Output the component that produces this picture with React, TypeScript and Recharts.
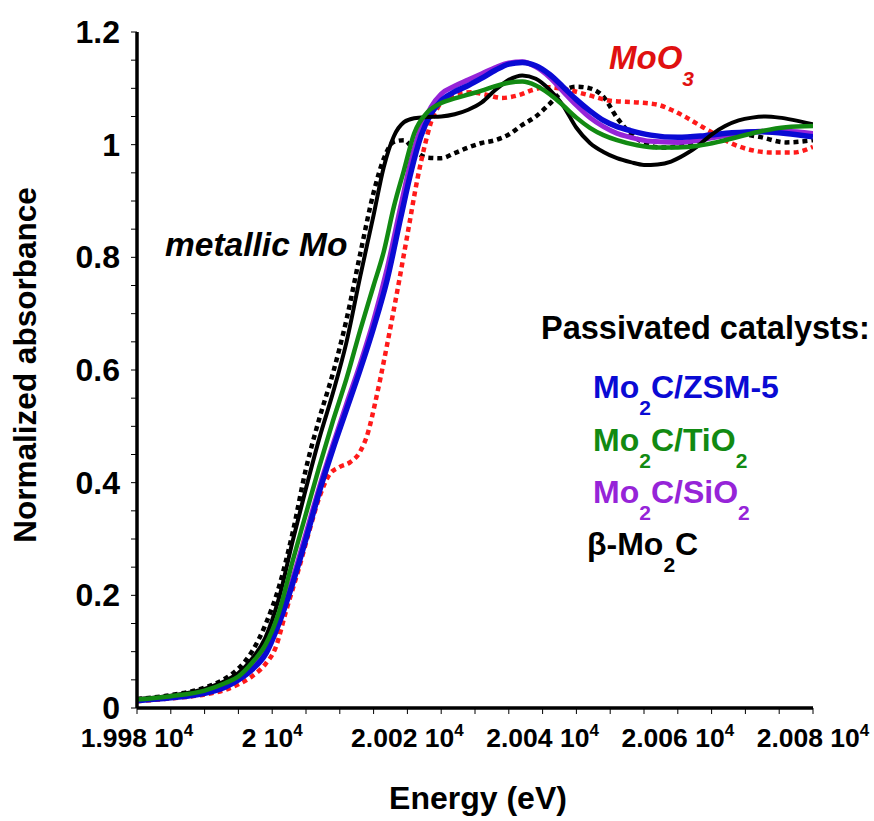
import React from 'react';
import { LineChart, Line, XAxis, YAxis } from 'recharts';

// energies (eV) and normalized absorbance per sample
const metalE = [19980, 19985, 19990, 19993, 19995, 19997, 19999, 20001, 20003, 20005, 20007, 20009, 20011, 20013, 20015, 20016.5, 20018, 20019.5, 20021, 20023, 20025, 20027, 20029, 20031, 20033, 20035, 20037, 20039, 20041, 20043, 20045, 20047, 20049, 20051, 20053, 20055, 20057.5, 20061, 20064, 20068, 20072, 20076, 20080];
const metalY = [0.016, 0.023, 0.036, 0.052, 0.07, 0.1, 0.148, 0.215, 0.31, 0.425, 0.515, 0.595, 0.69, 0.805, 0.915, 0.975, 1.005, 1.008, 0.99, 0.977, 0.976, 0.985, 0.995, 1.003, 1.008, 1.018, 1.035, 1.05, 1.072, 1.095, 1.103, 1.1, 1.085, 1.048, 1.02, 1.003, 0.995, 0.998, 1.012, 1.02, 1.014, 1.004, 1.008];

const mooE = [19980, 19985, 19990, 19993, 19995, 19997, 19999, 20000.5, 20002, 20004, 20005.5, 20007, 20008.5, 20010, 20011.5, 20013, 20014.2, 20015.2, 20016, 20017, 20018.5, 20020, 20021.5, 20022.6, 20023.5, 20024.5, 20025.5, 20027.3, 20029.3, 20031.5, 20034, 20036.5, 20038.5, 20040.5, 20043, 20046.5, 20050, 20054, 20057, 20059, 20061, 20063, 20065, 20068, 20071, 20074, 20077, 20080];
const mooY = [0.012, 0.017, 0.024, 0.032, 0.042, 0.056, 0.078, 0.107, 0.17, 0.25, 0.315, 0.375, 0.415, 0.428, 0.436, 0.455, 0.49, 0.54, 0.585, 0.645, 0.74, 0.84, 0.94, 1.0, 1.04, 1.066, 1.08, 1.089, 1.093, 1.089, 1.083, 1.088, 1.097, 1.102, 1.099, 1.089, 1.078, 1.075, 1.071, 1.062, 1.05, 1.036, 1.022, 1.002, 0.99, 0.986, 0.986, 0.996];

const betaE = [19980, 19985, 19990, 19993, 19995, 19997, 19999, 20001, 20003, 20005, 20007, 20009, 20011, 20013, 20015, 20016.5, 20018, 20019.5, 20021, 20023, 20025, 20027, 20029, 20031, 20033, 20035, 20037, 20039, 20041, 20043, 20045, 20047, 20049, 20051, 20053, 20055, 20057, 20059, 20061, 20063, 20065, 20067, 20069, 20071, 20073, 20075, 20077, 20080];
const betaY = [0.016, 0.022, 0.034, 0.048, 0.062, 0.087, 0.125, 0.195, 0.295, 0.39, 0.48, 0.56, 0.65, 0.765, 0.875, 0.96, 1.015, 1.04, 1.047, 1.049, 1.05, 1.054, 1.062, 1.075, 1.097, 1.115, 1.123, 1.117, 1.098, 1.07, 1.03, 1.003, 0.987, 0.976, 0.969, 0.964, 0.965, 0.97, 0.982, 0.998, 1.018, 1.033, 1.043, 1.048, 1.05, 1.048, 1.044, 1.036];

const suppE = [19980, 19985, 19990, 19993, 19995, 19997, 19999, 20001, 20003, 20005, 20007, 20009, 20011, 20013, 20015, 20017, 20019, 20020.5, 20022, 20023.5, 20025, 20027, 20029, 20031, 20033, 20035, 20037, 20039, 20041, 20043, 20045, 20047, 20049, 20051, 20053, 20056, 20060, 20064, 20068, 20072, 20076, 20080];
const zsmY = [0.013, 0.018, 0.026, 0.037, 0.05, 0.068, 0.095, 0.15, 0.22, 0.3, 0.385, 0.46, 0.53, 0.6, 0.675, 0.76, 0.87, 0.95, 1.015, 1.055, 1.078, 1.094, 1.105, 1.118, 1.132, 1.143, 1.146, 1.14, 1.125, 1.103, 1.08, 1.06, 1.043, 1.032, 1.025, 1.017, 1.013, 1.016, 1.021, 1.023, 1.02, 1.014];
const sioY = [0.014, 0.019, 0.027, 0.039, 0.052, 0.071, 0.099, 0.156, 0.228, 0.31, 0.393, 0.468, 0.54, 0.61, 0.688, 0.78, 0.89, 0.97, 1.03, 1.067, 1.09, 1.104, 1.115, 1.126, 1.137, 1.145, 1.147, 1.138, 1.12, 1.095, 1.07, 1.048, 1.032, 1.02, 1.013, 1.006, 1.004, 1.01, 1.018, 1.024, 1.024, 1.02];

const tioE = [19980, 19985, 19990, 19993, 19995, 19997, 19999, 20001, 20003, 20005, 20007, 20009, 20011, 20013, 20015, 20016.5, 20018, 20019.5, 20021, 20023, 20025, 20027, 20029, 20031, 20033, 20035, 20037, 20039, 20041, 20043, 20045, 20047, 20049, 20051, 20054, 20057, 20060, 20063, 20066, 20069, 20072, 20076, 20080];
const tioY = [0.015, 0.021, 0.031, 0.044, 0.056, 0.08, 0.112, 0.17, 0.26, 0.345, 0.43, 0.51, 0.585, 0.67, 0.75, 0.81, 0.89, 0.955, 1.02, 1.058, 1.074, 1.082, 1.089, 1.096, 1.104, 1.11, 1.112, 1.105, 1.09, 1.07, 1.048, 1.03, 1.017, 1.008, 0.999, 0.995, 0.995, 0.998, 1.005, 1.014, 1.023, 1.031, 1.033];

const xMajor = [19980, 20000, 20020, 20040, 20060, 20080];
const xLabels = ['1.998', '2', '2.002', '2.004', '2.006', '2.008'];
const yMajor = [0, 0.2, 0.4, 0.6, 0.8, 1, 1.2];
const yLabels = ['0', '0.2', '0.4', '0.6', '0.8', '1', '1.2'];

const xTicks = Array.from({ length: 21 }, (_, i) => 19980 + i * 5);
const yTicks = Array.from({ length: 25 }, (_, i) => +(i * 0.05).toFixed(2));

const zip = (es: number[], ys: number[]) => es.map((e, i) => ({ e, v: ys[i] }));

const FONT = '"Liberation Sans", Arial, Helvetica, sans-serif';

const BLUE = '#0a0ad4';
const GREEN = '#128a12';
const PURPLE = '#9624d8';
const RED = '#ff1a1a';

function XTick(props: any) {
  const { x, y, payload } = props;
  const idx = xMajor.indexOf(payload.value);
  if (idx < 0) return null;
  return (
    <text x={x} y={y + 33} textAnchor="middle" fontFamily={FONT} fontWeight="bold" fontSize={26.5} fill="#000">
      {xLabels[idx]} 10
      <tspan fontSize={17} dy={-11}>4</tspan>
    </text>
  );
}

function YTick(props: any) {
  const { x, y, payload } = props;
  const idx = yMajor.findIndex((m) => Math.abs(m - payload.value) < 1e-6);
  if (idx < 0) return null;
  return (
    <text x={x - 11} y={y} dy={11} textAnchor="end" fontFamily={FONT} fontWeight="bold" fontSize={32} fill="#000">
      {yLabels[idx]}
    </text>
  );
}

// chemical formula: main text, subscript, more text, optional final subscript
function Formula({ x, y, main, sub, tail, sub2, color, size = 32, italic = false }: any) {
  return (
    <text x={x} y={y} fontFamily={FONT} fontWeight="bold" fontStyle={italic ? 'italic' : 'normal'} fontSize={size} fill={color}>
      {main}
      <tspan fontSize={21} dy={17}>{sub}</tspan>
      {tail ? <tspan dy={-17}>{tail}</tspan> : null}
      {sub2 ? <tspan fontSize={21} dy={17}>{sub2}</tspan> : null}
    </text>
  );
}

export default function App() {
  const W = 874;
  const H = 821;
  return (
    <div style={{ position: 'fixed', left: 0, top: 0, width: W, height: H, background: '#fff' }}>
      <LineChart width={W} height={H} margin={{ top: 32, right: 61, bottom: 33, left: 27 }}>
        <XAxis
          type="number"
          dataKey="e"
          domain={[19980, 20080]}
          ticks={xTicks}
          interval={0}
          allowDataOverflow
          height={80}
          tickSize={6}
          tickMargin={0}
          tick={<XTick />}
          axisLine={{ stroke: '#000', strokeWidth: 3.5 }}
          tickLine={{ stroke: '#000', strokeWidth: 1 }}
        />
        <YAxis
          type="number"
          domain={[0, 1.2]}
          ticks={yTicks}
          interval={0}
          allowDataOverflow
          width={110}
          tickSize={6}
          tickMargin={0}
          tick={<YTick />}
          axisLine={{ stroke: '#000', strokeWidth: 3.5 }}
          tickLine={{ stroke: '#000', strokeWidth: 1 }}
        />
        <Line data={zip(metalE, metalY)} dataKey="v" type="monotone" stroke="#000" strokeWidth={4.5} strokeDasharray="5 4" dot={false} isAnimationActive={false} />
        <Line data={zip(mooE, mooY)} dataKey="v" type="monotone" stroke={RED} strokeWidth={4.5} strokeDasharray="5 4" dot={false} isAnimationActive={false} />
        <Line data={zip(suppE, sioY)} dataKey="v" type="monotone" stroke={PURPLE} strokeWidth={5} dot={false} isAnimationActive={false} />
        <Line data={zip(suppE, zsmY)} dataKey="v" type="monotone" stroke={BLUE} strokeWidth={5.5} dot={false} isAnimationActive={false} />
        <Line data={zip(betaE, betaY)} dataKey="v" type="monotone" stroke="#000" strokeWidth={4} dot={false} isAnimationActive={false} />
        <Line data={zip(tioE, tioY)} dataKey="v" type="monotone" stroke={GREEN} strokeWidth={4.5} dot={false} isAnimationActive={false} />
      </LineChart>
      <svg width={W} height={H} style={{ position: 'absolute', left: 0, top: 0, pointerEvents: 'none' }}>
        <text x={36} y={365} transform="rotate(-90 36 365)" textAnchor="middle" fontFamily={FONT} fontWeight="bold" fontSize={31.5} fill="#000">
          Normalized absorbance
        </text>
        <text x={478} y={809} textAnchor="middle" fontFamily={FONT} fontWeight="bold" fontSize={32} fill="#000">
          Energy (eV)
        </text>
        <text x={165} y={256} fontFamily={FONT} fontWeight="bold" fontStyle="italic" fontSize={33.5} fill="#000">
          metallic Mo
        </text>
        <Formula x={609} y={69} main="MoO" sub="3" color="#e01010" italic size={33} />
        <text x={541} y={339} fontFamily={FONT} fontWeight="bold" fontSize={32.5} fill="#000">
          Passivated catalysts:
        </text>
        <Formula x={593} y={398} main="Mo" sub="2" tail="C/ZSM-5" color={BLUE} />
        <Formula x={593} y={451} main="Mo" sub="2" tail="C/TiO" sub2="2" color={GREEN} />
        <Formula x={593} y={503} main="Mo" sub="2" tail="C/SiO" sub2="2" color={PURPLE} />
        <Formula x={587} y={555} main="β-Mo" sub="2" tail="C" color="#000" />
      </svg>
    </div>
  );
}
